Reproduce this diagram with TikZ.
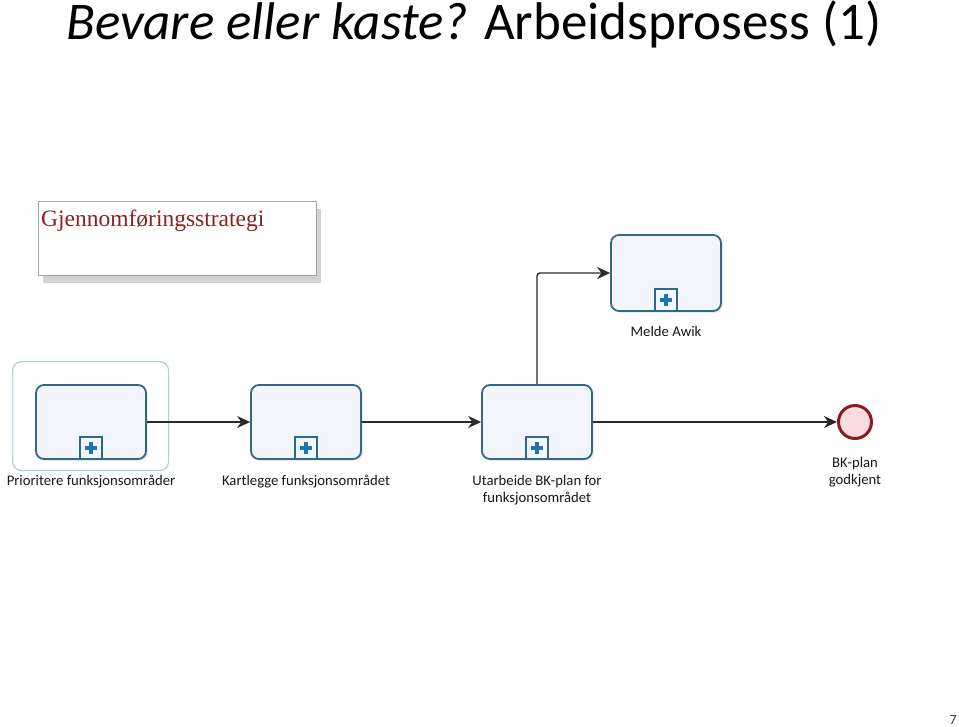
\documentclass[tikz,border=0pt]{standalone}
\usepackage{fontspec}
\setmainfont{Carlito}
\newfontfamily\stratfont{Liberation Serif}
\usetikzlibrary{arrows.meta,shadows,positioning}
\definecolor{taskborder}{HTML}{2E6A88}
\definecolor{taskfill}{HTML}{F3F5FC}
\definecolor{plusc}{HTML}{1C74B4}
\definecolor{selc}{HTML}{AFCFDC}
\definecolor{flowc}{HTML}{2A2A2A}
\definecolor{endborder}{HTML}{8A1C24}
\definecolor{endfill}{HTML}{F9DCDE}
\definecolor{stratc}{HTML}{8B2323}
\tikzset{
  task/.style={draw=taskborder, line width=1.8pt, rounded corners=8pt, fill=taskfill,
    minimum width=110pt, minimum height=74pt, inner sep=0pt,
    drop shadow={shadow xshift=2pt, shadow yshift=-2pt, opacity=0.15, fill=gray}},
  markbox/.style={draw=taskborder, line width=1.6pt, fill=taskfill, minimum size=22pt, inner sep=0pt, anchor=south},
  plusline/.style={draw=plusc, line width=3.8pt},
  lbl/.style={font=\fontsize{14.7}{17}\selectfont, text=black!90, align=center, inner sep=0pt},
  flow/.style={draw=flowc, line width=1.4pt, -{Stealth[length=13pt,width=12pt]}},
}
\begin{document}
\begin{tikzpicture}[x=1pt,y=-1pt]
\useasboundingbox (0,0) rectangle (959,726);
\fill[white] (0,0) rectangle (959,726);

% title
\node[anchor=base west, inner sep=0pt, font=\fontsize{53}{56}\selectfont] (title) at (66,39)
  {\textit{Bevare eller kaste?} Arbeidsprosess (1)};

% strategy box
\node[draw=gray!70, line width=0.8pt, fill=white, minimum width=278pt, minimum height=74pt,
  inner sep=0pt, anchor=north west,
  drop shadow={shadow xshift=5pt, shadow yshift=-8pt, opacity=0.35, fill=gray}] (strat) at (38,201) {};
\node[anchor=base west, inner sep=0pt, text=stratc, font=\stratfont\fontsize{23.5}{26}\selectfont] (strattext) at (41,226) {Gjennomføringsstrategi};

% selection frame around first task
\node[draw=selc, line width=1.2pt, rounded corners=9pt, minimum width=156pt, minimum height=109pt, anchor=north west] (sel) at (12,361) {};

% tasks
\node[task] (t1) at (91,422) {};
\node[task] (t2) at (306,422) {};
\node[task] (t3) at (537,422) {};
\node[task, minimum height=76pt] (t4) at (666,273) {};

% sub-process markers
\foreach \t in {t1,t2,t3,t4}{
  \node[markbox] (\t m) at (\t.south) {};
  \draw[plusline] ([xshift=-6pt]\t m.center) -- ([xshift=6pt]\t m.center);
  \draw[plusline] ([yshift=-6pt]\t m.center) -- ([yshift=6pt]\t m.center);
}

% end event
\node[circle, draw=endborder, line width=3pt, fill=endfill, minimum size=33pt, inner sep=0pt] (end) at (855,422) {};

% labels
\node[lbl] (l1) at (91,482) {Prioritere funksjonsområder};
\node[lbl] (l2) at (306,482) {Kartlegge funksjonsområdet};
\node[lbl] (l3) at (537,490) {Utarbeide BK-plan for\\funksjonsområdet};
\node[lbl] (l4) at (666,331) {Melde Awik};
\node[lbl] (l5) at (855,472) {BK-plan\\godkjent};

% flows
\draw[flow] (t1) -- (t2);
\draw[flow] (t2) -- (t3);
\draw[flow] (t3) -- (end);
\draw[flow, rounded corners=3pt] (t3.north) |- (t4.west);

% page number
\node[anchor=base east, inner sep=0pt, font=\fontsize{14}{16}\selectfont, text=black!75] (pagenum) at (957,724) {7};
\end{tikzpicture}
\end{document}
